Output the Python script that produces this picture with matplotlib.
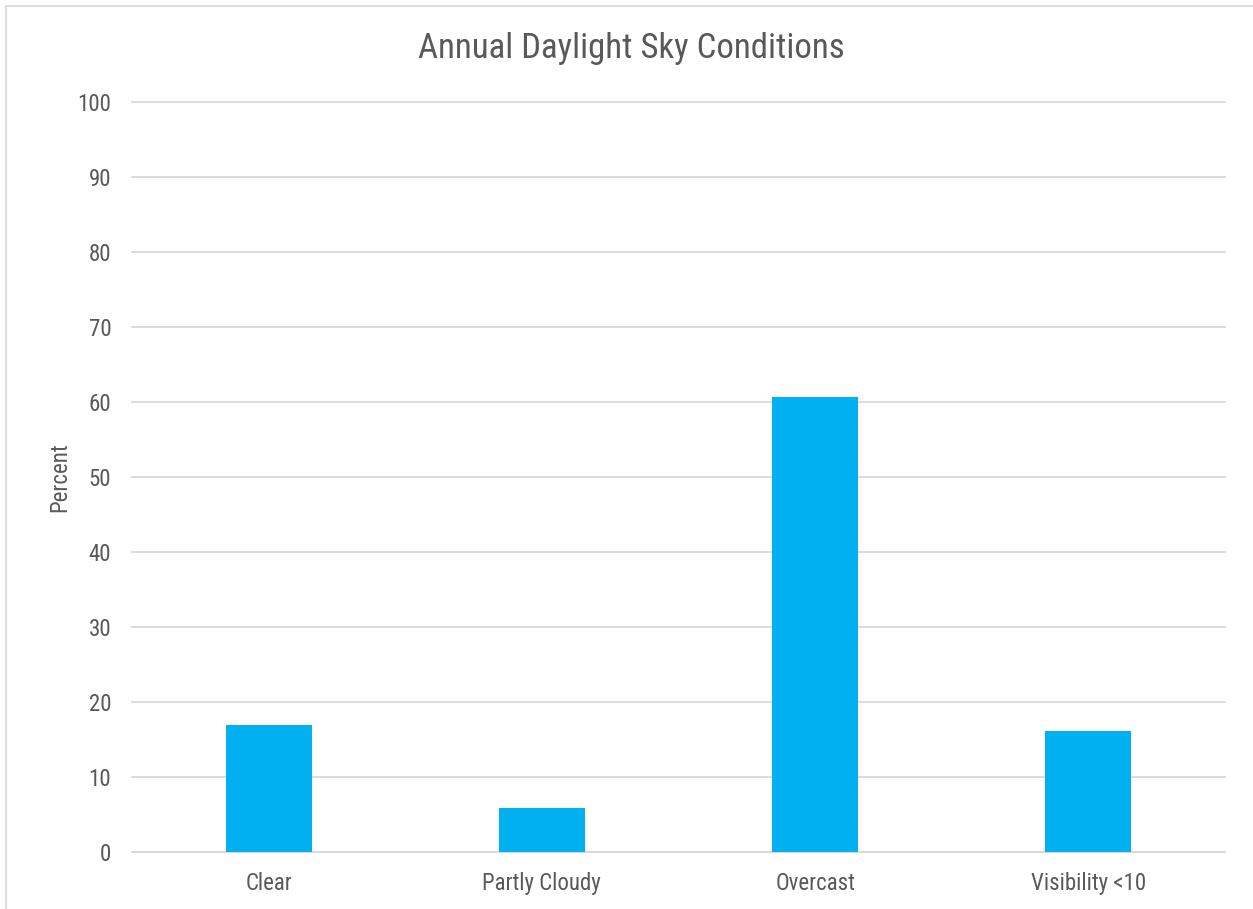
import matplotlib.pyplot as plt
from matplotlib.patches import Rectangle
from matplotlib import font_manager

categories = ["Clear", "Partly Cloudy", "Overcast", "Visibility <10"]
percent = [17.0, 5.9, 60.7, 16.2]
yticks = [0, 10, 20, 30, 40, 50, 60, 70, 80, 90, 100]

# narrow font like the original, with fallbacks
names = {f.name for f in font_manager.fontManager.ttflist}
wanted = ["Liberation Sans Narrow", "Arial Narrow", "Roboto Condensed", "Archivo Narrow"]
fams = [n for n in wanted if n in names] + ["DejaVu Sans"]
plt.rcParams['font.family'] = fams

W, H = 1253, 909
fig = plt.figure(figsize=(W / 100, H / 100), dpi=100)
ax = fig.add_axes([132 / W, 1 - 852.3 / H, (1225 - 132) / W, (852.3 - 101.7) / H])

x = list(range(len(categories)))
ax.bar(x, percent, width=0.315, color="#00b0f0", zorder=3)
ax.set_xlim(-0.5, len(categories) - 0.5)
ax.set_ylim(0, 100)
ax.set_yticks(yticks)
ax.set_xticks(x)
ax.set_xticklabels(categories)
ax.grid(axis="y", color="#d9d9d9", linewidth=1.3, zorder=0)
for gl in ax.get_ygridlines():
    gl.set_clip_on(False)
for s in ["top", "right", "left"]:
    ax.spines[s].set_visible(False)
ax.spines["bottom"].set_color("#d9d9d9")
ax.spines["bottom"].set_linewidth(1.3)
ax.tick_params(length=0, labelsize=16.5, colors="#595959")
ax.tick_params(axis="x", pad=14)
ax.tick_params(axis="y", pad=15)
ax.set_ylabel("Percent", fontsize=16.5, color="#595959", labelpad=4)
fig.text(631 / W, 1 - 48.5 / H, "Annual Daylight Sky Conditions", ha="center", va="center",
         fontsize=25, color="#595959")

# chart frame (cropped at right and bottom)
fig.patches.append(Rectangle((6 / W, -0.1), 1.2, 1 - 6 / H + 0.1, transform=fig.transFigure,
                             fill=False, edgecolor="#d9d9d9", linewidth=1.3))

fig.savefig("out.png", dpi=100)
